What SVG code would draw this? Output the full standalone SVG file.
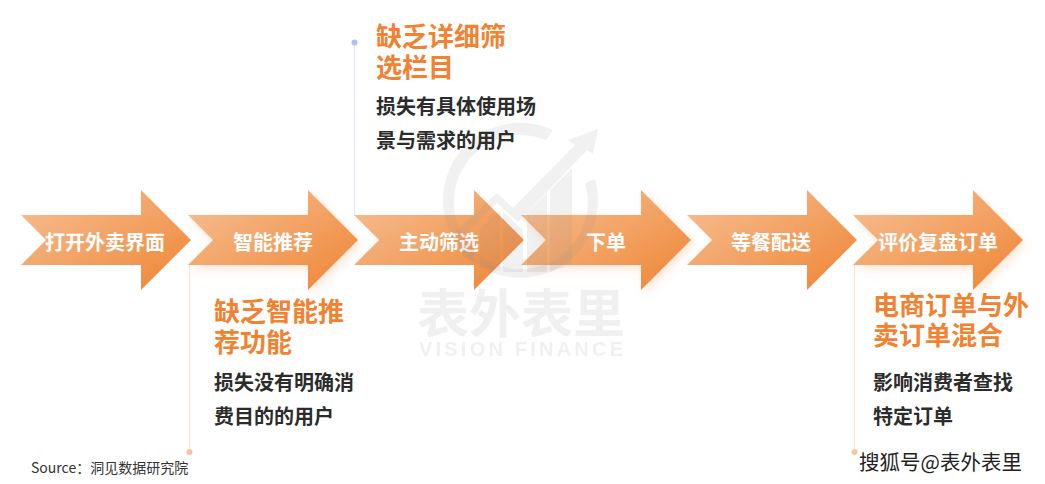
<svg xmlns="http://www.w3.org/2000/svg" width="1045" height="484" viewBox="0 0 1045 484">
<style>
text{font-family:"Noto Sans CJK SC","Liberation Sans",sans-serif}
.lbl{font-size:20px;font-weight:700;fill:#fff;text-anchor:middle}
.h{font-size:26px;font-weight:700;fill:#f08232}
.b{font-size:20px;font-weight:700;fill:#2c2c2c}
.wm{fill:#8c8c8c;opacity:.12}
</style>
<defs>
<linearGradient id="g" x1="0" y1="0" x2="1" y2="1"><stop offset="0.1" stop-color="#f6bb8d"/><stop offset="0.9" stop-color="#ef8a3c"/></linearGradient>
<filter id="sh" x="-10%" y="-10%" width="125%" height="130%"><feDropShadow dx="3" dy="4" stdDeviation="4" flood-color="#f08232" flood-opacity=".2"/></filter>
<polygon id="arr" points="21,215 141,215 141,190 191,240 141,290 141,265 21,265 46,240" fill="url(#g)"/>
</defs>
<rect width="1045" height="484" fill="#fff"/>
<g id="connectors" fill="none" stroke-width="1">
<line x1="189.500" y1="265" x2="189.500" y2="452" stroke="#f9e0cf"/>
<line x1="354.500" y1="43" x2="354.500" y2="215" stroke="#dfe7f6"/>
<line x1="854.500" y1="265" x2="854.500" y2="452" stroke="#f9e0cf"/>
<circle cx="189.500" cy="452" r="3" fill="#f6c4a0"/>
<circle cx="354.500" cy="42.500" r="3" fill="#adc2e8"/>
<circle cx="854.500" cy="452" r="3" fill="#f6c4a0"/>
</g>
<g id="n1"><use href="#arr"/><text class="lbl" x="105" y="250">打开外卖界面</text></g>
<g id="n2"><use href="#arr" x="167" filter="url(#sh)"/><text class="lbl" x="273" y="250">智能推荐</text></g>
<g id="n3"><use href="#arr" x="333"/><text class="lbl" x="439" y="250">主动筛选</text></g>
<g id="n4"><use href="#arr" x="500" filter="url(#sh)"/><text class="lbl" x="606" y="250">下单</text></g>
<g id="n5"><use href="#arr" x="666"/><text class="lbl" x="771" y="250">等餐配送</text></g>
<g id="n6"><use href="#arr" x="832" filter="url(#sh)"/><text class="lbl" x="938" y="250">评价复盘订单</text></g>
<g id="watermark">
<path class="wm" d="M553,130A77.500,77.500 0 1 0 595,179L585,183A67,67 0 1 1 546,140Z"/>
<path class="wm" d="M462,237L455,232L497,193L513,208L575,145L568,140L598,129L593,154L587,150L518,222L497,203Z"/>
<path class="wm" d="M462,248L474,236V262L462,256ZM480,229L500,210V271L480,267ZM503,212L523,230V272H503ZM527,213L547,193V272H527ZM550,190L572,168V264L550,272Z"/>
<text class="wm" x="417" y="333" font-size="52" font-weight="700">表外表里</text>
<text class="wm" x="419" y="356" font-size="20" font-weight="700" textLength="204" style="font-family:'Liberation Sans',sans-serif">VISION FINANCE</text>
</g>
<g id="note1"><text class="h" x="214" y="321">缺乏智能推</text><text class="h" x="214" y="352">荐功能</text><text class="b" x="214" y="390">损失没有明确消</text><text class="b" x="214" y="424">费目的的用户</text></g>
<g id="note2"><text class="h" x="376" y="46">缺乏详细筛</text><text class="h" x="376" y="77">选栏目</text><text class="b" x="376" y="114">损失有具体使用场</text><text class="b" x="376" y="148">景与需求的用户</text></g>
<g id="note3"><text class="h" x="873" y="315">电商订单与外</text><text class="h" x="873" y="345">卖订单混合</text><text class="b" x="873" y="390">影响消费者查找</text><text class="b" x="873" y="424">特定订单</text></g>
<text id="source" x="31" y="473" font-size="14" fill="#333">Source：洞见数据研究院</text>
<text id="credit" x="859" y="470" font-size="20.500" fill="#222" stroke="#fff" stroke-width="3" paint-order="stroke">搜狐号@表外表里</text>
</svg>
